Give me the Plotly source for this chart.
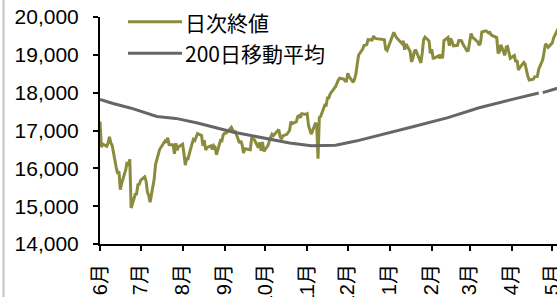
import plotly.graph_objects as go

# ---- data -------------------------------------------------------------
dates = [
    "2016-06-01", "2016-06-02", "2016-06-03", "2016-06-06", "2016-06-07", "2016-06-08", "2016-06-09", "2016-06-10",
    "2016-06-13", "2016-06-14", "2016-06-15", "2016-06-16", "2016-06-17", "2016-06-20", "2016-06-21", "2016-06-22",
    "2016-06-23", "2016-06-24", "2016-06-27", "2016-06-28", "2016-06-29", "2016-06-30",
    "2016-07-01", "2016-07-04", "2016-07-05", "2016-07-06", "2016-07-07", "2016-07-08", "2016-07-11", "2016-07-12",
    "2016-07-13", "2016-07-14", "2016-07-15", "2016-07-19", "2016-07-20", "2016-07-21", "2016-07-22", "2016-07-25",
    "2016-07-26", "2016-07-27", "2016-07-28", "2016-07-29",
    "2016-08-01", "2016-08-02", "2016-08-03", "2016-08-04", "2016-08-05", "2016-08-08", "2016-08-09", "2016-08-10",
    "2016-08-12", "2016-08-15", "2016-08-16", "2016-08-17", "2016-08-18", "2016-08-19", "2016-08-22", "2016-08-23",
    "2016-08-24", "2016-08-25", "2016-08-26", "2016-08-29", "2016-08-30", "2016-08-31",
    "2016-09-01", "2016-09-02", "2016-09-05", "2016-09-06", "2016-09-07", "2016-09-08", "2016-09-09", "2016-09-12",
    "2016-09-13", "2016-09-14", "2016-09-15", "2016-09-16", "2016-09-20", "2016-09-21", "2016-09-23", "2016-09-26",
    "2016-09-27", "2016-09-28", "2016-09-29", "2016-09-30",
    "2016-10-03", "2016-10-04", "2016-10-05", "2016-10-06", "2016-10-07", "2016-10-11", "2016-10-12", "2016-10-13",
    "2016-10-14", "2016-10-17", "2016-10-18", "2016-10-19", "2016-10-20", "2016-10-21", "2016-10-24", "2016-10-25",
    "2016-10-26", "2016-10-27", "2016-10-28", "2016-10-31",
    "2016-11-01", "2016-11-02", "2016-11-04", "2016-11-07", "2016-11-08", "2016-11-09", "2016-11-10", "2016-11-11",
    "2016-11-14", "2016-11-15", "2016-11-16", "2016-11-17", "2016-11-18", "2016-11-21", "2016-11-22", "2016-11-24",
    "2016-11-25", "2016-11-28", "2016-11-29", "2016-11-30",
    "2016-12-01", "2016-12-02", "2016-12-05", "2016-12-06", "2016-12-07", "2016-12-08", "2016-12-09", "2016-12-12",
    "2016-12-13", "2016-12-14", "2016-12-15", "2016-12-16", "2016-12-19", "2016-12-20", "2016-12-21", "2016-12-22",
    "2016-12-26", "2016-12-27", "2016-12-28", "2016-12-29", "2016-12-30",
    "2017-01-04", "2017-01-05", "2017-01-06", "2017-01-10", "2017-01-11", "2017-01-12", "2017-01-13", "2017-01-16",
    "2017-01-17", "2017-01-18", "2017-01-19", "2017-01-20", "2017-01-23", "2017-01-24", "2017-01-25", "2017-01-26",
    "2017-01-27", "2017-01-30", "2017-01-31",
    "2017-02-01", "2017-02-02", "2017-02-03", "2017-02-06", "2017-02-07", "2017-02-08", "2017-02-09", "2017-02-10",
    "2017-02-13", "2017-02-14", "2017-02-15", "2017-02-16", "2017-02-17", "2017-02-20", "2017-02-21", "2017-02-22",
    "2017-02-23", "2017-02-24", "2017-02-27", "2017-02-28",
    "2017-03-01", "2017-03-02", "2017-03-03", "2017-03-06", "2017-03-07", "2017-03-08", "2017-03-09", "2017-03-10",
    "2017-03-13", "2017-03-14", "2017-03-15", "2017-03-16", "2017-03-17", "2017-03-21", "2017-03-22", "2017-03-23",
    "2017-03-24", "2017-03-27", "2017-03-28", "2017-03-29", "2017-03-30", "2017-03-31",
    "2017-04-03", "2017-04-04", "2017-04-05", "2017-04-06", "2017-04-07", "2017-04-10", "2017-04-11", "2017-04-12",
    "2017-04-13", "2017-04-14", "2017-04-17", "2017-04-18", "2017-04-19", "2017-04-20", "2017-04-21", "2017-04-24",
    "2017-04-25", "2017-04-26", "2017-04-27", "2017-04-28",
    "2017-05-01", "2017-05-02", "2017-05-08", "2017-05-09",
]

close = [
    17235, 16563, 16642, 16580, 16675, 16831, 16668, 16601,
    16019, 15859, 15920, 15434, 15600, 15965, 16169, 16066,
    16238, 14952, 15309, 15323, 15567, 15576,
    15682, 15776, 15669, 15379, 15276, 15107, 15709, 16096,
    16231, 16386, 16498, 16723, 16682, 16810, 16627, 16620,
    16383, 16665, 16477, 16569,
    16636, 16391, 16083, 16254, 16255, 16651, 16765, 16735,
    16920, 16870, 16597, 16746, 16486, 16546, 16598, 16497,
    16597, 16556, 16361, 16737, 16725, 16887,
    16927, 16926, 17038, 17082, 17012, 16959, 16966, 16673,
    16729, 16614, 16405, 16519, 16492, 16808, 16754, 16545,
    16684, 16465, 16694, 16450,
    16599, 16736, 16819, 16899, 16860, 17025, 16840, 16774,
    16856, 16900, 16964, 16999, 17235, 17185, 17234, 17365,
    17392, 17336, 17446, 17425,
    17442, 17135, 16905, 17177, 17171, 16252, 17344, 17375,
    17673, 17668, 17862, 17863, 17967, 18106, 18163, 18333,
    18381, 18357, 18307, 18308,
    18513, 18426, 18275, 18361, 18497, 18765, 18996, 19155,
    19251, 19254, 19274, 19401, 19392, 19495, 19444, 19428,
    19397, 19403, 19402, 19145, 19114,
    19594, 19521, 19454, 19301, 19365, 19135, 19287, 19095,
    18814, 18894, 19072, 19138, 18891, 18788, 19058, 19402,
    19467, 19369, 19041,
    19148, 18915, 18918, 18977, 18911, 19008, 18908, 19379,
    19459, 19239, 19438, 19348, 19235, 19251, 19381, 19380,
    19371, 19284, 19107, 19119,
    19394, 19565, 19469, 19379, 19344, 19254, 19319, 19605,
    19634, 19610, 19577, 19590, 19522, 19456, 19041, 19085,
    19263, 18986, 19203, 19217, 19063, 18909,
    18983, 18810, 18861, 18597, 18665, 18798, 18748, 18553,
    18427, 18336, 18355, 18419, 18432, 18430, 18621, 18876,
    19079, 19289, 19252, 19197,
    19311, 19446, 19896, 19843,
]

ma_dates = [
    "2016-06-01", "2016-06-10", "2016-06-24", "2016-07-13", "2016-07-27", "2016-08-12",
    "2016-09-07", "2016-09-27", "2016-10-19", "2016-11-04", "2016-11-22", "2016-12-07",
    "2016-12-22", "2017-01-18", "2017-02-13", "2017-03-08", "2017-03-31", "2017-04-21",
    "2017-04-22", "2017-04-24", "2017-05-08",
]
ma_values = [
    17820, 17720, 17590, 17370, 17320, 17200,
    16960, 16820, 16670, 16600, 16610, 16720,
    16850, 17100, 17340, 17600, 17810, 17990,
    None, 18000, 18150,
]

series_names = ["日次終値", "200日移動平均"]
month_ticks = [
    "2016-06-01", "2016-07-01", "2016-08-01", "2016-09-01", "2016-10-01", "2016-11-01",
    "2016-12-01", "2017-01-01", "2017-02-01", "2017-03-01", "2017-04-01", "2017-05-01",
]
month_labels = ["6月", "7月", "8月", "9月", "10月", "11月", "12月", "1月", "2月", "3月", "4月", "5月"]
y_ticks = [14000, 15000, 16000, 17000, 18000, 19000, 20000]

# ---- styling -----------------------------------------------------------
OLIVE = "#8A8B3C"
GRAY = "#666666"
FONT = "Liberation Sans, Arial, Noto Sans CJK JP, sans-serif"

W, H = 557, 297
L, R, T, B = 100, 0, 17, 53
PW, PH = W - L - R, H - T - B


def px_x(p):
    return (p - L) / PW


def px_y(p):
    return (H - B - p) / PH


fig = go.Figure()
fig.add_trace(go.Scatter(x=dates, y=close, mode="lines", name=series_names[0],
                         line=dict(color=OLIVE, width=3), showlegend=False))
fig.add_trace(go.Scatter(x=ma_dates, y=ma_values, mode="lines", name=series_names[1],
                         line=dict(color=GRAY, width=3), connectgaps=False, showlegend=False))

# manual legend (long line samples as in the reference)
legend_rows = [(series_names[0], OLIVE, 21.7, 22.5), (series_names[1], GRAY, 53.3, 52.5)]
shapes = []
annotations = []
for name, col, ly, ty in legend_rows:
    shapes.append(dict(type="line", xref="paper", yref="paper",
                       x0=px_x(128), x1=px_x(182), y0=px_y(ly), y1=px_y(ly),
                       line=dict(color=col, width=3)))
    annotations.append(dict(text=name, xref="paper", yref="paper", x=px_x(183), y=px_y(ty),
                            xanchor="left", yanchor="middle", showarrow=False,
                            font=dict(family="Noto Sans CJK JP, Liberation Sans, sans-serif",
                                      size=21, color="#000000")))

# light gray frame line at the far left
shapes.append(dict(type="line", xref="paper", yref="paper",
                   x0=px_x(3.5), x1=px_x(3.5), y0=px_y(H), y1=px_y(0),
                   line=dict(color="#C4C4C4", width=2)))

fig.update_layout(
    width=W, height=H,
    margin=dict(l=L, r=R, t=T, b=B, pad=0, autoexpand=False),
    paper_bgcolor="white", plot_bgcolor="white",
    font=dict(family=FONT, size=20, color="#000000"),
    shapes=shapes, annotations=annotations,
    showlegend=False,
)
fig.update_xaxes(
    type="date", range=["2016-06-01", "2017-05-04 12:00"], automargin=False,
    tickmode="array", tickvals=month_ticks, ticktext=month_labels, tickangle=-90,
    ticks="outside", ticklen=5, tickwidth=2, tickcolor="black",
    showline=True, linecolor="black", linewidth=2, showgrid=False, zeroline=False,
    tickfont=dict(family=FONT, size=20, color="black"), ticklabelstandoff=5,
    ticklabeloverflow="allow",
)
fig.update_yaxes(
    range=[14000, 20000], automargin=False, tickmode="array", tickvals=y_ticks, tickformat=",d",
    ticks="outside", ticklen=5, tickwidth=2, tickcolor="black",
    showline=True, linecolor="black", linewidth=2, showgrid=False, zeroline=False,
    tickfont=dict(family=FONT, size=21, color="black"), ticklabelstandoff=10,
    ticklabeloverflow="allow",
)

fig.write_html("out.html", config={"displayModeBar": False},
               post_script="document.body.style.margin='0';")
